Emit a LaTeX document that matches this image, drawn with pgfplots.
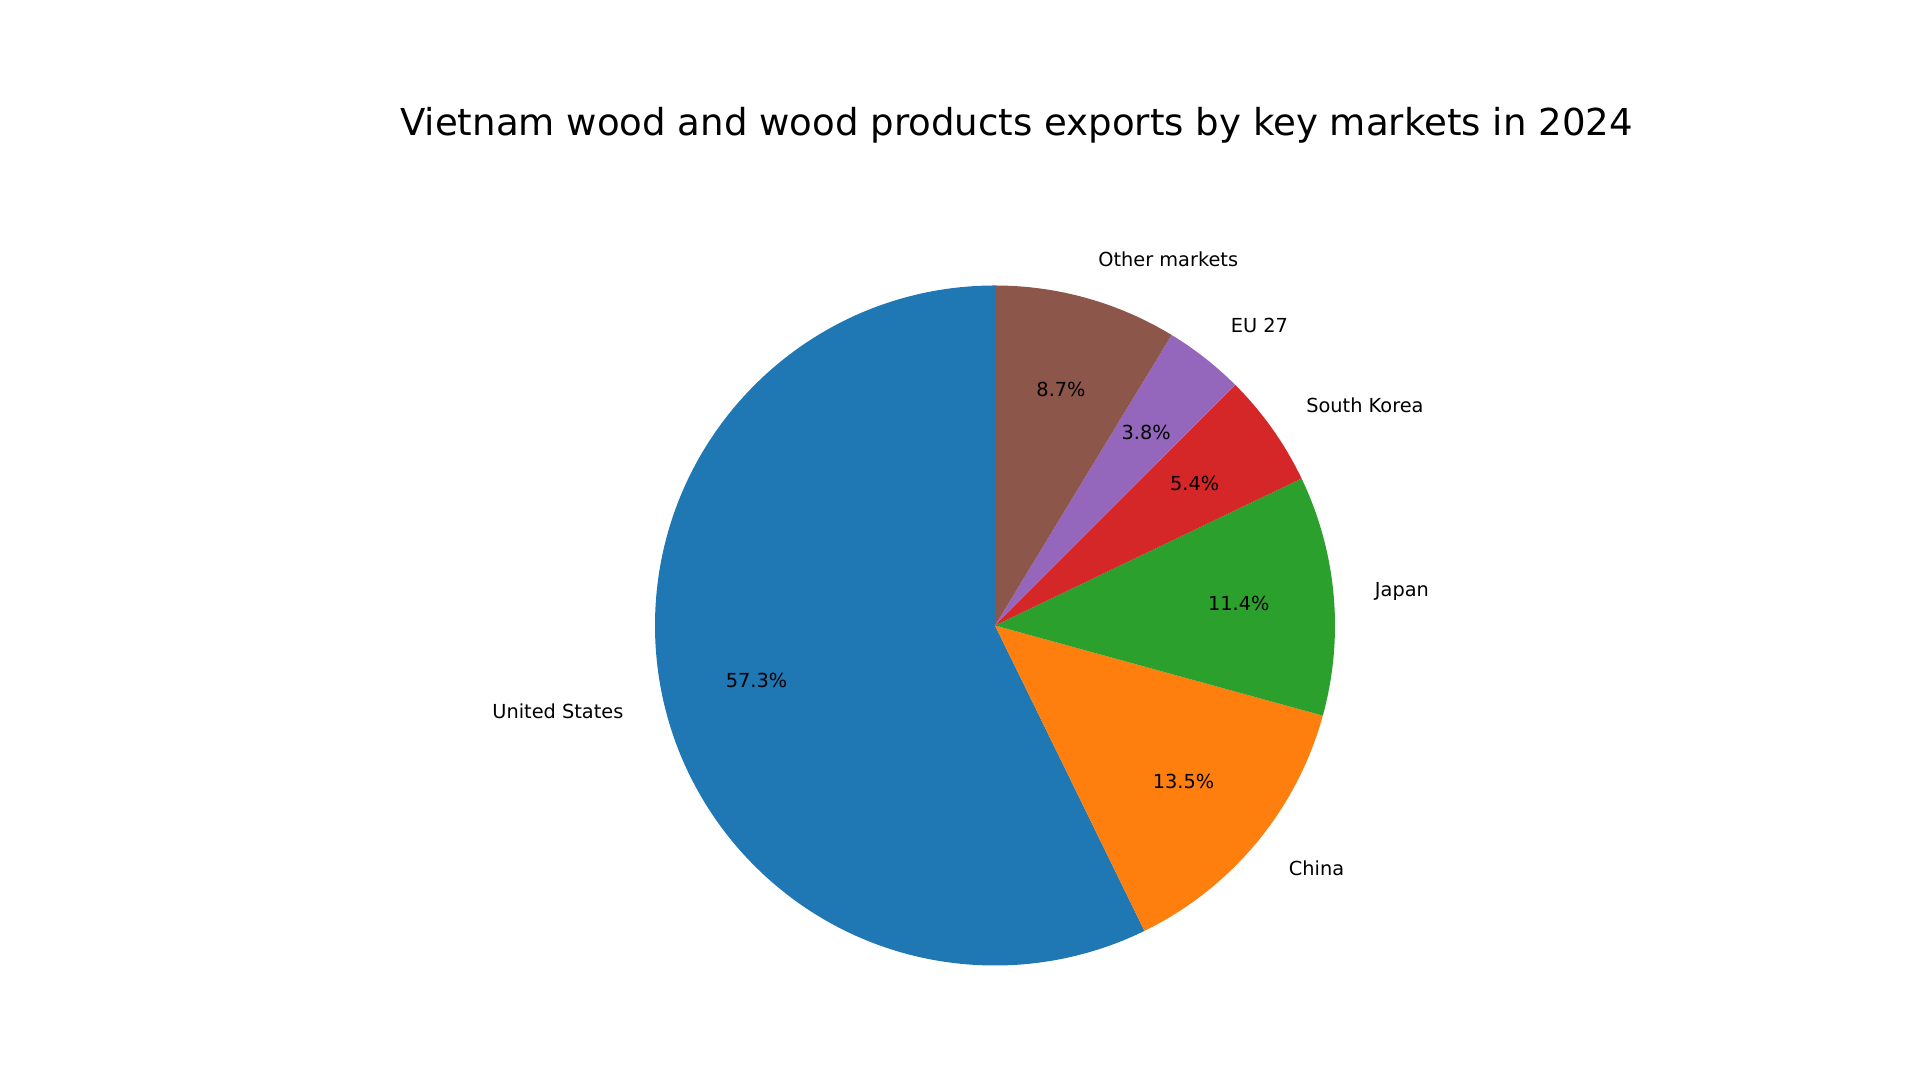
\documentclass[border=0pt]{standalone}
\usepackage{fontspec}
\setmainfont{DejaVu Sans}
\usepackage{pgfplots}
\usepackage{pgfplotstable}
\pgfplotsset{compat=1.18}

% matplotlib tab10
\definecolor{tabblue}{HTML}{1F77B4}
\definecolor{taborange}{HTML}{FF7F0E}
\definecolor{tabgreen}{HTML}{2CA02C}
\definecolor{tabred}{HTML}{D62728}
\definecolor{tabpurple}{HTML}{9467BD}
\definecolor{tabbrown}{HTML}{8C564B}

% share of exports, %
\pgfplotstableread[col sep=comma]{
name,share,colour
United States,57.3,tabblue
China,13.5,taborange
Japan,11.4,tabgreen
South Korea,5.4,tabred
EU 27,3.8,tabpurple
Other markets,8.7,tabbrown
}\exportdata

\newcommand\piefont{\fontsize{5.5}{6.6}\selectfont}

% build the wedges (outside the axis, plain pgfmath)
\pgfplotstablegetrowsof{\exportdata}
\pgfmathtruncatemacro\lastrow{\pgfplotsretval-1}
\def\total{0}
\pgfplotsforeachungrouped \i in {0,...,\lastrow}{%
  \pgfplotstablegetelem{\i}{share}\of\exportdata
  \pgfmathsetmacro\total{\total+\pgfplotsretval}%
}
\def\allwedges{}
\def\startang{90}
\pgfplotsforeachungrouped \i in {0,...,\lastrow}{%
  \pgfplotstablegetelem{\i}{share}\of\exportdata \let\share\pgfplotsretval
  \pgfplotstablegetelem{\i}{name}\of\exportdata \let\name\pgfplotsretval
  \pgfplotstablegetelem{\i}{colour}\of\exportdata \let\col\pgfplotsretval
  \pgfmathsetmacro\endang{\startang+\share/\total*360}%
  \pgfmathsetmacro\midang{(\startang+\endang)/2}%
  \pgfmathsetmacro\sx{cos(\startang)}%
  \pgfmathsetmacro\sy{sin(\startang)}%
  \pgfmathsetmacro\lx{1.12*cos(\midang)}%
  \pgfmathsetmacro\ly{1.12*sin(\midang)}%
  \pgfmathsetmacro\px{0.72*cos(\midang)}%
  \pgfmathsetmacro\py{0.72*sin(\midang)}%
  \ifdim\lx pt>0pt \def\anc{west}\else\def\anc{east}\fi
  \edef\allwedges{\unexpanded\expandafter{\allwedges}%
    \noexpand\fill[\col] (axis cs:0,0) -- (axis cs:\sx,\sy)
      arc[start angle=\startang, end angle=\endang, radius=3.40cm] -- cycle;
    \noexpand\node[anchor=\anc, inner sep=0pt, font=\noexpand\piefont]
      at (axis cs:\lx,\ly) {\name};
    \noexpand\node[anchor=center, inner sep=0pt, font=\noexpand\piefont]
      at (axis cs:\px,\py) {\share\noexpand\%};
  }%
  \let\startang\endang
}

\begin{document}
\begin{tikzpicture}
\useasboundingbox (0,0) rectangle (19.2,10.8);
\node[anchor=base, font=\fontsize{10.56}{12.6}\selectfont] at (10.165,9.44)
  {Vietnam wood and wood products exports by key markets in 2024};

\begin{axis}[
    hide axis,
    x=3.40cm, y=3.40cm,
    xmin=-1.5, xmax=1.5,
    ymin=-1.2, ymax=1.2,
    clip=false,
    anchor=center,
    at={(9.95cm,4.545cm)},
]
\allwedges
\end{axis}
\end{tikzpicture}
\end{document}
